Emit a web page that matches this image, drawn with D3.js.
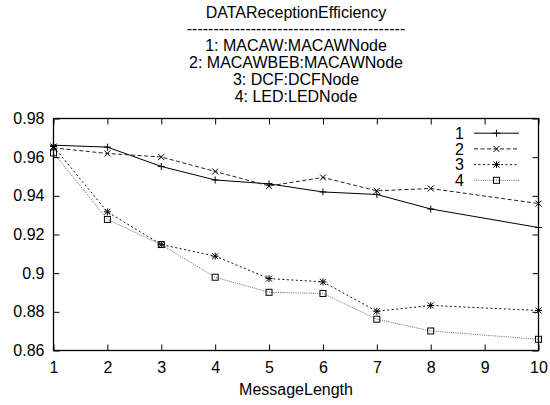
<!DOCTYPE html>
<html>
<head>
<meta charset="utf-8">
<script src="https://cdn.jsdelivr.net/npm/d3@7"></script>
<style>
  html, body { margin: 0; padding: 0; background: #fff; }
  svg { display: block; font-family: "Liberation Sans", Arial, Helvetica, sans-serif; }
</style>
</head>
<body>
<svg id="chart" width="550" height="405"></svg>
<script>
// Message lengths (no run at length 9)
const messageLength = [1, 2, 3, 4, 5, 6, 7, 8, 10];

// DATA reception efficiency per protocol/node
const macaw    = [0.9662, 0.9652, 0.9552, 0.9482, 0.9462, 0.9420, 0.9407, 0.9332, 0.9236];
const macawbeb = [0.9648, 0.9619, 0.9601, 0.9526, 0.9451, 0.9495, 0.9426, 0.9438, 0.9360];
const dcf      = [0.9655, 0.9317, 0.9148, 0.9088, 0.8972, 0.8955, 0.8803, 0.8833, 0.8807];
const led      = [0.9622, 0.9278, 0.9148, 0.8979, 0.8901, 0.8895, 0.8762, 0.8701, 0.8658];

const seriesNames = ["1", "2", "3", "4"];
const titleLines = [
  "DATAReceptionEfficiency",
  "-----------------------------------------",
  "1: MACAW:MACAWNode",
  "2: MACAWBEB:MACAWNode",
  "3: DCF:DCFNode",
  "4: LED:LEDNode"
];
const xTicks = [1, 2, 3, 4, 5, 6, 7, 8, 9, 10];
const yTicks = [0.86, 0.88, 0.90, 0.92, 0.94, 0.96, 0.98];
const xLabel = "MessageLength";

const svg = d3.select("#chart");
const L = 53.5, R = 538.5, T = 118.5, B = 350.5;
const FS = 16;

const x = d3.scaleLinear().domain([1, 10]).range([L, R]);
const y = d3.scaleLinear().domain([0.86, 0.98]).range([B, T]);

// Title block
const cx = (L + R) / 2;
svg.append("g").selectAll("text").data(titleLines).join("text")
  .attr("x", cx)
  .attr("y", (d, i) => 17.5 + i * 16.8)
  .attr("text-anchor", "middle")
  .attr("font-size", FS)
  .attr("fill", "#000")
  .text(d => d);

// Axes with inward ticks, mirrored on top/right
const tickLen = 6;
const gx = svg.append("g").attr("transform", `translate(0,${B})`)
  .call(d3.axisBottom(x).tickValues(xTicks).tickFormat(d3.format("d"))
    .tickSizeInner(-tickLen).tickSizeOuter(0).tickPadding(11));
const gy = svg.append("g").attr("transform", `translate(${L},0)`)
  .call(d3.axisLeft(y).tickValues(yTicks).tickFormat(d3.format("~g"))
    .tickSizeInner(-tickLen).tickSizeOuter(0).tickPadding(9));
const gt = svg.append("g").attr("transform", `translate(0,${T})`)
  .call(d3.axisTop(x).tickValues(xTicks).tickFormat("")
    .tickSizeInner(-tickLen).tickSizeOuter(0));
const gr = svg.append("g").attr("transform", `translate(${R},0)`)
  .call(d3.axisRight(y).tickValues(yTicks).tickFormat("")
    .tickSizeInner(-tickLen).tickSizeOuter(0));

[gx, gy, gt, gr].forEach(g => {
  g.select(".domain").remove();
  g.selectAll("line").attr("stroke", "#000").attr("stroke-width", 1);
  g.selectAll("text").attr("font-size", FS).attr("fill", "#000")
    .attr("font-family", "'Liberation Sans', Arial, sans-serif");
});

// Plot border
svg.append("rect")
  .attr("x", L).attr("y", T).attr("width", R - L).attr("height", B - T)
  .attr("fill", "none").attr("stroke", "#000").attr("stroke-width", 1.3);

// X axis label
svg.append("text")
  .attr("x", cx).attr("y", 395)
  .attr("text-anchor", "middle")
  .attr("font-size", FS)
  .text(xLabel);

// Series styling
const styles = [
  { color: "#000", dash: null,    marker: "plus" },
  { color: "#222", dash: "4,2.5", marker: "cross" },
  { color: "#111", dash: "2,2.5", marker: "star" },
  { color: "#666", dash: "1,1.2", marker: "square" }
];
const seriesData = [macaw, macawbeb, dcf, led];

function drawMarker(g, type, px, py) {
  const s = 3.5;
  const m = g.append("g").attr("stroke", "#000").attr("stroke-width", 1).attr("fill", "none");
  if (type === "plus" || type === "star") {
    m.append("line").attr("x1", px - s).attr("x2", px + s).attr("y1", py).attr("y2", py);
    m.append("line").attr("x1", px).attr("x2", px).attr("y1", py - s).attr("y2", py + s);
  }
  if (type === "cross" || type === "star") {
    const c = 3;
    m.append("line").attr("x1", px - c).attr("x2", px + c).attr("y1", py - c).attr("y2", py + c);
    m.append("line").attr("x1", px - c).attr("x2", px + c).attr("y1", py + c).attr("y2", py - c);
  }
  if (type === "square") {
    m.append("rect").attr("x", px - 3).attr("y", py - 3).attr("width", 6).attr("height", 6);
  }
}

const line = d3.line().x(d => x(d[0])).y(d => y(d[1]));

seriesData.forEach((vals, i) => {
  const st = styles[i];
  const pts = messageLength.map((m, j) => [m, vals[j]]);
  const g = svg.append("g");
  g.append("path").datum(pts)
    .attr("d", line)
    .attr("fill", "none")
    .attr("stroke", st.color)
    .attr("stroke-width", 1)
    .attr("stroke-dasharray", st.dash);
  pts.forEach(p => drawMarker(g, st.marker, x(p[0]), y(p[1])));
});

// Legend
const legX1 = 474, legX2 = 519, legTextX = 464;
seriesNames.forEach((name, i) => {
  const by = 139 + i * 15.7;
  const ly = by - 5.8;
  const st = styles[i];
  const g = svg.append("g");
  g.append("text").attr("x", legTextX).attr("y", by)
    .attr("text-anchor", "end").attr("font-size", FS).text(name);
  g.append("line").attr("x1", legX1).attr("x2", legX2).attr("y1", ly).attr("y2", ly)
    .attr("stroke", st.color).attr("stroke-width", 1).attr("stroke-dasharray", st.dash);
  drawMarker(g, st.marker, (legX1 + legX2) / 2, ly);
});
</script>
</body>
</html>
